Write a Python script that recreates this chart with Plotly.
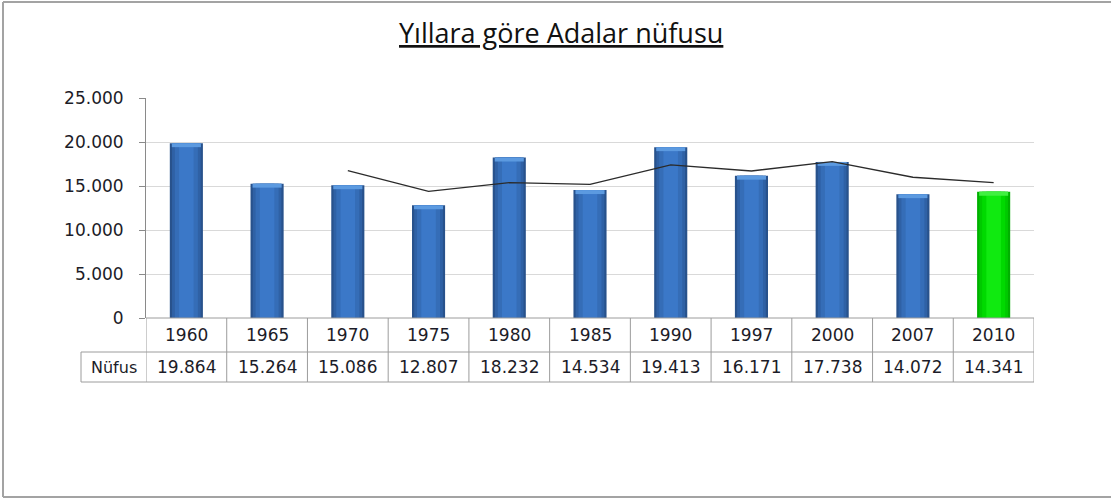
import plotly.graph_objects as go

# ---- data ----
years = ["1960", "1965", "1970", "1975", "1980", "1985", "1990", "1997", "2000", "2007", "2010"]
population = [19864, 15264, 15086, 12807, 18232, 14534, 19413, 16171, 17738, 14072, 14341]
trend = [None, None, 16738, 14386, 15375, 15191, 17393, 16706, 17774, 15994, 15384]
y_ticks = [0, 5000, 10000, 15000, 20000, 25000]
row_label = "Nüfus"
title_text = "Yıllara göre Adalar nüfusu"

# ---- geometry helpers (pixels -> paper) ----
W, H = 1111, 500
def px(x):
    return x / W
def py(y):
    return 1 - y / H

X0, X1 = 146, 1034          # plot area left/right
Y_TOP, Y_ZERO = 98, 318     # 25.000 line and 0 line
ROW1_BOT, ROW2_BOT = 352, 382
LABEL_LEFT = 81

def fmt(v):
    return f"{v:,}".replace(",", ".")

fig = go.Figure()

# bars with simulated horizontal gradient (layered overlay)
blue_layers = ["#28528c", "#2f61a5", "#356db7", "#3b78c8"]
green_layers = ["#00b000", "#00c900", "#00da00", "#10ea10"]
layer_widths = [0.41, 0.355, 0.285, 0.18]
for i, w in enumerate(layer_widths):
    colors = [blue_layers[i]] * (len(years) - 1) + [green_layers[i]]
    fig.add_trace(go.Bar(
        x=years, y=population, width=w,
        marker=dict(color=colors, line=dict(width=0)),
        hoverinfo="skip", showlegend=False,
    ))

# light bevel strip on top of each bar
bevel = 450
fig.add_trace(go.Bar(
    x=years, y=[bevel] * len(years), base=[p - bevel for p in population], width=0.36,
    marker=dict(color=["#5c9ae0"] * (len(years) - 1) + ["#40f040"], line=dict(width=0)),
    hoverinfo="skip", showlegend=False,
))

fig.add_trace(go.Scatter(
    x=years, y=trend, mode="lines",
    line=dict(color="#2b2b2b", width=1.3),
    showlegend=False,
))

grid_col = "#9c9c9c"
frame_col = "#a3a3a3"
shapes = []
# outer chart frame (top, left, bottom; right edge lies outside the picture)
shapes.append(dict(type="line", xref="paper", yref="paper", x0=px(3), x1=1.0,
                   y0=py(2), y1=py(2), line=dict(color=frame_col, width=2)))
shapes.append(dict(type="line", xref="paper", yref="paper", x0=px(3), x1=1.0,
                   y0=py(497), y1=py(497), line=dict(color=frame_col, width=2)))
shapes.append(dict(type="line", xref="paper", yref="paper", x0=px(3), x1=px(3),
                   y0=py(497), y1=py(2), line=dict(color=frame_col, width=2)))
# table horizontal lines
shapes.append(dict(type="line", xref="x", yref="paper", x0=-0.5, x1=len(years) - 0.5,
                   y0=py(Y_ZERO), y1=py(Y_ZERO), line=dict(color=grid_col, width=1)))
for yy in (ROW1_BOT, ROW2_BOT):
    shapes.append(dict(type="line", xref="paper", yref="paper", x0=px(LABEL_LEFT), x1=px(X1),
                       y0=py(yy), y1=py(yy), line=dict(color=grid_col, width=1)))
# table vertical lines
for k in range(len(years) + 1):
    shapes.append(dict(type="line", xref="x", yref="paper", x0=k - 0.5, x1=k - 0.5,
                       y0=py(ROW2_BOT), y1=py(Y_ZERO), line=dict(color=grid_col, width=1)))
shapes.append(dict(type="line", xref="paper", yref="paper", x0=px(LABEL_LEFT), x1=px(LABEL_LEFT),
                   y0=py(ROW2_BOT), y1=py(ROW1_BOT), line=dict(color=grid_col, width=1)))

tfont = dict(family="DejaVu Sans", size=17, color="#1c1c28")
annotations = []
for i, (yr, v) in enumerate(zip(years, population)):
    annotations.append(dict(x=i, xref="x", y=py((Y_ZERO + ROW1_BOT) / 2), yref="paper",
                            text=yr, showarrow=False, font=tfont,
                            xanchor="center", yanchor="middle"))
    annotations.append(dict(x=i, xref="x", y=py((ROW1_BOT + ROW2_BOT) / 2), yref="paper",
                            text=fmt(v), showarrow=False, font=tfont,
                            xanchor="center", yanchor="middle"))
annotations.append(dict(x=px((LABEL_LEFT + X0) / 2), xref="paper", y=py((ROW1_BOT + ROW2_BOT) / 2),
                        yref="paper", text=row_label, showarrow=False,
                        font=dict(family="DejaVu Sans", size=16, color="#1c1c28"),
                        xanchor="center", yanchor="middle"))
annotations.append(dict(x=px(561), xref="paper", y=py(32), yref="paper", text=title_text,
                        showarrow=False, xanchor="center", yanchor="middle",
                        font=dict(family="Open Sans", size=27, color="#111111", lineposition="under")))

fig.update_layout(
    width=W, height=H,
    margin=dict(l=0, r=0, t=0, b=0, autoexpand=False),
    paper_bgcolor="white", plot_bgcolor="white",
    barmode="overlay", showlegend=False,
    separators=",.",
    shapes=shapes, annotations=annotations,
    xaxis=dict(domain=[px(X0), px(X1)], type="category", range=[-0.5, len(years) - 0.5],
               showticklabels=False, showgrid=False, showline=False, zeroline=False, ticks="",
               automargin=False),
    yaxis=dict(domain=[py(Y_ZERO), py(Y_TOP)], range=[0, 25000], tickvals=y_ticks,
               tickformat=",d", showline=True, linecolor="#8a8a8a", linewidth=1,
               ticks="outside", ticklen=6, tickcolor="#8a8a8a",
               showgrid=True, gridcolor="#d9d9d9", zeroline=False,
               ticklabelstandoff=12, automargin=False,
               tickfont=dict(family="DejaVu Sans", size=17, color="#1c1c28")),
)

fig.write_html("out.html",
               config={"displayModeBar": False},
               post_script="document.body.style.margin='0';document.body.style.overflow='hidden';")
